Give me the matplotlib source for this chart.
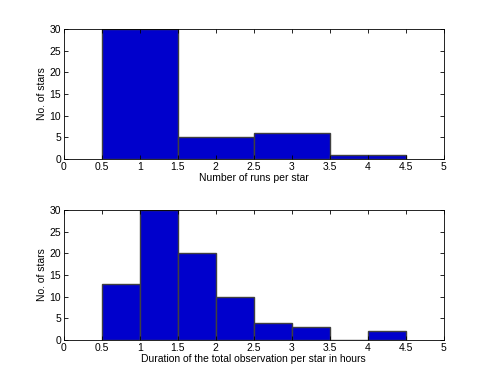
import numpy as np
import matplotlib
matplotlib.use("Agg")
import matplotlib.pyplot as plt

plt.rcParams["font.family"] = ["Liberation Sans", "DejaVu Sans"]
plt.rcParams["font.size"] = 7.5

# runs per star (bin centres 1..4, width 1)
runs_left = [0.5, 1.5, 2.5, 3.5]
runs_counts = [30, 5, 6, 1]

# total observation duration per star in hours (bins of 0.5 h)
dur_left = [0.5, 1.0, 1.5, 2.0, 2.5, 3.0, 3.5, 4.0]
dur_counts = [13, 30, 20, 10, 4, 3, 0, 2]

BAR = "#0000CC"
EDGE = "#404040"

fig = plt.figure(figsize=(4.91, 3.82), dpi=100)
ax1 = fig.add_axes([0.130, 0.584, 0.774, 0.340])
ax2 = fig.add_axes([0.130, 0.110, 0.774, 0.340])

ax1.bar(runs_left, runs_counts, width=1.0, align="edge", color=BAR, edgecolor=EDGE, lw=1.0)
ax2.bar(dur_left, dur_counts, width=0.5, align="edge", color=BAR, edgecolor=EDGE, lw=1.0)

for ax in (ax1, ax2):
    ax.set_xlim(0, 5)
    ax.set_ylim(0, 30)
    ax.set_xticks(np.arange(0, 5.01, 0.5))
    ax.set_xticklabels(["0", "0.5", "1", "1.5", "2", "2.5", "3", "3.5", "4", "4.5", "5"])
    ax.set_yticks([0, 5, 10, 15, 20, 25, 30])
    ax.tick_params(direction="in", top=True, right=True, length=3, width=0.6, pad=2)
    for s in ax.spines.values():
        s.set_linewidth(0.6)
    ax.set_ylabel("No. of stars", labelpad=2)

ax1.set_xlabel("Number of runs per star", labelpad=1)
ax2.set_xlabel("Duration of the total observation per star in hours", labelpad=1)

fig.savefig("out.png", dpi=100)
